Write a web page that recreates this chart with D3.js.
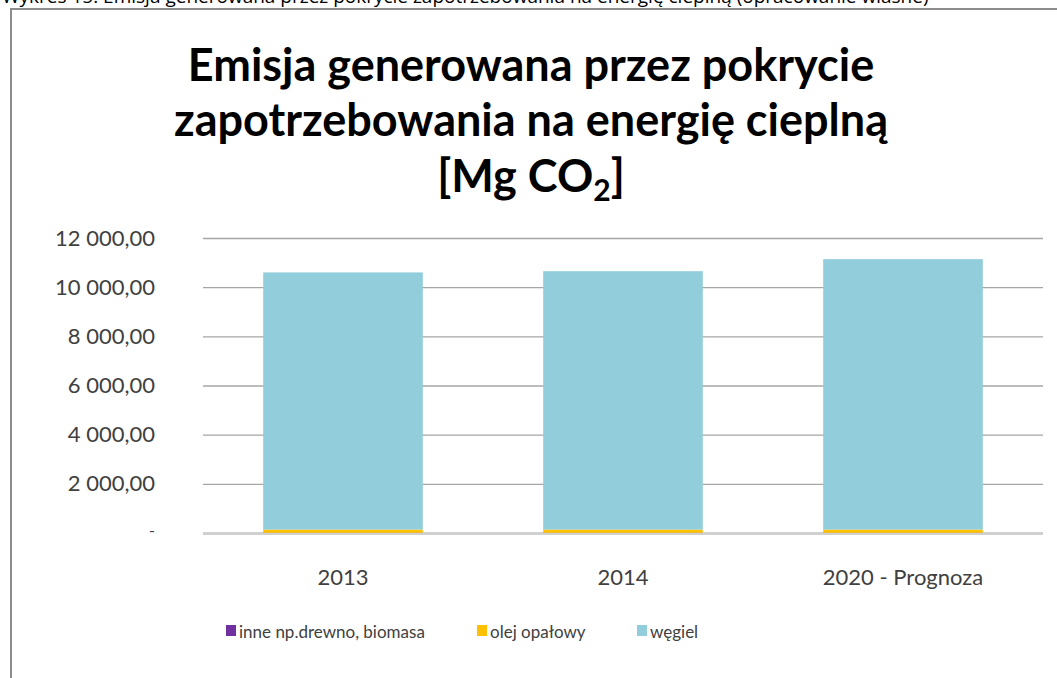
<!DOCTYPE html>
<html>
<head>
<meta charset="utf-8">
<script src="https://cdn.jsdelivr.net/npm/d3@7"></script>
<style>
  body { margin: 0; background: #fff; overflow: hidden; }
  svg { display: block; font-family: Lato, 'Open Sans', sans-serif; }
</style>
</head>
<body>
<svg id="chart" width="1057" height="678"></svg>
<script>
// dane
const categories = ['2013', '2014', '2020 - Prognoza']
const inne = [10, 10, 10]
const olej = [130, 130, 130]
const wegiel = [10460, 10510, 11000]
const seriesNames = ['inne np.drewno, biomasa', 'olej opałowy', 'węgiel']
const seriesColors = ['#7030a0', '#ffc000', '#92cddc']
const yTicks = [0, 2000, 4000, 6000, 8000, 10000, 12000]

const rows = categories.map((c, i) => ({ cat: c, s0: inne[i], s1: olej[i], s2: wegiel[i] }))
const stack = d3.stack().keys(['s0', 's1', 's2'])(rows)

const svg = d3.select('#chart')

// podpis ucięty u góry
svg.append('text')
  .attr('x', 2).attr('y', 3)
  .style('font-family', "'Open Sans', sans-serif")
  .style('font-size', '19px')
  .style('fill', '#000')
  .text('Wykres 15. Emisja generowana przez pokrycie zapotrzebowania na energię cieplną (opracowanie własne)')

// ramka wykresu
svg.append('rect')
  .attr('x', 11).attr('y', 9)
  .attr('width', 1100).attr('height', 700)
  .attr('fill', '#fff')
  .attr('stroke', '#8c8c8c').attr('stroke-width', 2)

// tytuł
const title = svg.append('text')
  .attr('text-anchor', 'middle')
  .style('font-family', "Lato, sans-serif")
  .style('font-weight', 'bold')
  .style('font-size', '45px')
  .style('fill', '#000')
title.append('tspan').attr('x', 531).attr('y', 81).text('Emisja generowana przez pokrycie')
title.append('tspan').attr('x', 531).attr('y', 136).text('zapotrzebowania na energię cieplną')
const t3 = title.append('tspan').attr('x', 531).attr('y', 192).text('[Mg CO')
t3.append('tspan').attr('dy', 9).style('font-size', '30px').text('2')
t3.append('tspan').attr('dy', -9).text(']')

// skale
const margin = { left: 203, right: 1043, top: 238, bottom: 533 }
const x = d3.scaleBand().domain(categories).range([margin.left, margin.right]).paddingInner(0.43).paddingOuter(0.215)
const y = d3.scaleLinear().domain([0, 12000]).range([margin.bottom, margin.top])

const loc = d3.formatLocale({ decimal: ',', thousands: '\u2009', grouping: [3], currency: ['', ''] })
const fmt = v => v === 0 ? '-' : loc.format(',.2f')(v).replace('\u2009', ' ')

// siatka
const yAxis = d3.axisLeft(y).tickValues(yTicks).tickSize(-(margin.right - margin.left)).tickFormat(fmt).tickPadding(48)
const gy = svg.append('g').attr('transform', `translate(${margin.left},0)`).call(yAxis)
gy.select('.domain').remove()
gy.selectAll('.tick line').attr('stroke', '#a6a6a6').attr('stroke-width', 1.3)
gy.selectAll('.tick').filter(d => d === 0).select('line').attr('stroke', '#d0d0d0').attr('stroke-width', 3)
gy.selectAll('.tick text')
  .style('font-family', "Lato, sans-serif")
  .style('font-size', '22px').style('fill', '#404040')
gy.selectAll('.tick').filter(d => d === 0).select('text').style('font-size', '16px').attr('dy', '0.15em')

// słupki
svg.append('g').selectAll('g').data(stack).join('g')
  .attr('fill', (d, i) => seriesColors[i])
  .selectAll('rect').data(d => d).join('rect')
  .attr('x', d => x(d.data.cat))
  .attr('width', x.bandwidth())
  .attr('y', d => y(d[1]))
  .attr('height', d => y(d[0]) - y(d[1]))

// oś X
const xAxis = d3.axisBottom(x).tickSize(0).tickPadding(36)
const gx = svg.append('g').attr('transform', `translate(0,${margin.bottom})`).call(xAxis)
gx.select('.domain').remove()
gx.selectAll('.tick text')
  .style('font-family', "Lato, sans-serif")
  .style('font-size', '22px').style('fill', '#404040')

// legenda
const legendX = [226, 477, 637]
const lg = svg.append('g').selectAll('g').data(seriesNames).join('g')
  .attr('transform', (d, i) => `translate(${legendX[i]},638)`)
lg.append('rect').attr('x', 0).attr('y', -13).attr('width', 10).attr('height', 11)
  .attr('fill', (d, i) => seriesColors[i])
lg.append('text').attr('x', 13).attr('y', 0)
  .style('font-family', "Lato, sans-serif")
  .style('font-size', '17px').style('fill', '#404040')
  .text(d => d)
</script>
</body>
</html>
